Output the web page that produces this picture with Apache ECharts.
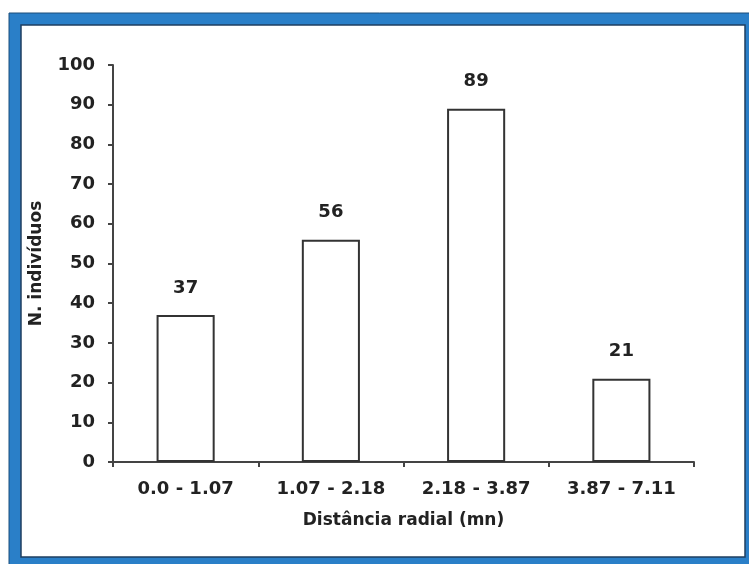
<!DOCTYPE html>
<html>
<head>
<meta charset="utf-8">
<script src="https://cdn.jsdelivr.net/npm/echarts@6/dist/echarts.min.js"></script>
<style>
html,body{margin:0;padding:0;background:#fff;}
#chart{width:749px;height:564px;}
</style>
</head>
<body>
<div id="chart"></div>
<script>
const categories = ['0.0 - 1.07', '1.07 - 2.18', '2.18 - 3.87', '3.87 - 7.11'];
const counts = [37, 56, 89, 21];
const yTicks = [0, 10, 20, 30, 40, 50, 60, 70, 80, 90, 100];
const xTitle = 'Distância radial (mn)';
const yTitle = 'N. indivíduos';

const chart = echarts.init(document.getElementById('chart'), null, {renderer: 'canvas'});
const font = 'DejaVu Sans';
chart.setOption({
  backgroundColor: '#fff',
  animation: false,
  graphic: [
    {type: 'rect', shape: {x: 9, y: 13, width: 750, height: 560}, style: {fill: '#2a7fc8', stroke: '#1d4f7a', lineWidth: 1}, z: -10},
    {type: 'rect', shape: {x: 21, y: 25, width: 724, height: 532}, style: {fill: '#ffffff', stroke: '#1f3f60', lineWidth: 1.5}, z: -9}
  ],
  grid: {left: 113, right: 55, top: 65, bottom: 102},
  xAxis: {
    type: 'category',
    data: categories,
    name: xTitle,
    nameLocation: 'middle',
    nameGap: 50,
    nameTextStyle: {fontFamily: font, fontWeight: 'bold', fontSize: 17, color: '#222'},
    axisLine: {lineStyle: {color: '#444', width: 2}},
    axisTick: {show: true, length: 5, lineStyle: {color: '#444', width: 2}},
    axisLabel: {fontFamily: font, fontWeight: 'bold', fontSize: 18, color: '#222', margin: 18}
  },
  yAxis: {
    type: 'value',
    min: yTicks[0],
    max: yTicks[yTicks.length - 1],
    interval: 10,
    name: yTitle,
    nameLocation: 'middle',
    nameGap: 68,
    nameRotate: 90,
    nameTextStyle: {fontFamily: font, fontWeight: 'bold', fontSize: 17, color: '#222'},
    axisLine: {show: true, lineStyle: {color: '#444', width: 2}},
    axisTick: {show: true, length: 5, lineStyle: {color: '#444', width: 2}},
    splitLine: {show: false},
    axisLabel: {fontFamily: font, fontWeight: 'bold', fontSize: 18, color: '#222', margin: 18}
  },
  series: [{
    type: 'bar',
    data: counts,
    barWidth: '40%',
    itemStyle: {color: '#fff', borderColor: '#333', borderWidth: 2},
    label: {show: true, position: 'top', distance: 18, fontFamily: font, fontWeight: 'bold', fontSize: 18, color: '#222'}
  }]
});
</script>
</body>
</html>
